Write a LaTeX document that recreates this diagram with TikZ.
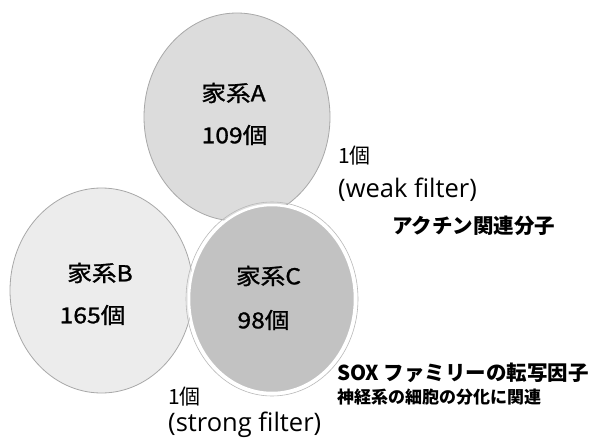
\documentclass[tikz,border=0pt]{standalone}
\usepackage{fontspec}
\usetikzlibrary{shapes.geometric}
\newfontfamily\jp{Noto Sans CJK JP}
\newfontfamily\jpw[FakeStretch=1.12,FakeBold=1.2]{Noto Sans CJK JP}
\newfontfamily\os{Open Sans}
\definecolor{afill}{HTML}{DCDCDC}
\definecolor{bfill}{HTML}{ECECEC}
\definecolor{cfill}{HTML}{C2C2C2}
\definecolor{edge}{HTML}{A8A8A8}
\tikzset{
  famcircle/.style={ellipse, inner sep=0pt, outer sep=0pt, draw=edge, line width=0.8pt},
  famlabel/.style={inner sep=0pt, font=\jpw\fontsize{22}{26}\selectfont},
  countlabel/.style={inner sep=0pt, anchor=base west, font=\jp\fontsize{21}{24}\selectfont},
  filterlabel/.style={inner sep=0pt, anchor=base west, font=\os\fontsize{25.5}{30}\selectfont},
  notelabel/.style={inner sep=0pt, anchor=base west, font=\jp\bfseries\fontsize{20.5}{24}\selectfont},
  subnote/.style={inner sep=0pt, anchor=base west, font=\jp\bfseries\fontsize{17}{20}\selectfont}
}
\begin{document}
\begin{tikzpicture}[x=1pt, y=-1pt]
\useasboundingbox[fill=white] (0,0) rectangle (594,439);
% circles
\node[famcircle, fill=afill, minimum width=186pt, minimum height=208pt] (A) at (237,117) {};
\node[famcircle, fill=bfill, minimum width=183pt, minimum height=205pt] (B) at (101.5,290.5) {};
\draw[edge!80, line width=0.6pt] (272,299) ellipse [x radius=86, y radius=97];
\node[ellipse, inner sep=0pt, outer sep=0pt, fill=cfill, draw=white, line width=2.5pt,
      minimum width=166pt, minimum height=188pt] (C) at (272,299) {};
% labels inside circles
\node[famlabel] (an) at (233.5,93) {家系A};
\node[famlabel] (ac) at (234.5,135) {109個};
\node[famlabel] (bn) at (100,273) {家系B};
\node[famlabel] (bc) at (92.5,315) {165個};
\node[famlabel] (cn) at (268.5,276) {家系C};
\node[famlabel] (cc) at (263.5,320) {98個};
% outside labels
\node[countlabel] (w1) at (338,163) {1個};
\node[filterlabel] (wf) at (338,197) {(weak filter)};
\node[notelabel] (act) at (392,233) {アクチン関連分子};
\node[countlabel] (s1) at (168,404) {1個};
\node[filterlabel] (sf) at (168,431) {(strong filter)};
\node[notelabel] (sox) at (337,380) {SOX ファミリーの転写因子};
\node[subnote] (neu) at (337,403) {神経系の細胞の分化に関連};
\end{tikzpicture}
\end{document}
